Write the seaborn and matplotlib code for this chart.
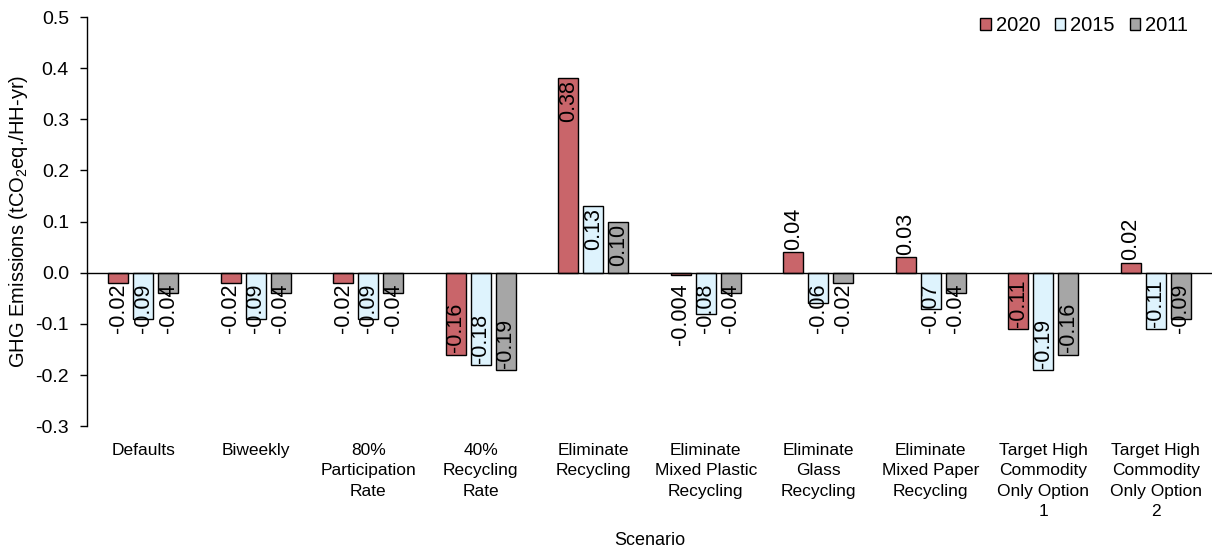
import matplotlib
matplotlib.use("Agg")
import matplotlib.pyplot as plt
from matplotlib.ticker import FormatStrFormatter, MultipleLocator
import pandas as pd
import seaborn as sns

# Scenario categories (wrapped as they appear on the axis)
scenarios = [
    "Defaults",
    "Biweekly",
    "80%\nParticipation\nRate",
    "40%\nRecycling\nRate",
    "Eliminate\nRecycling",
    "Eliminate\nMixed Plastic\nRecycling",
    "Eliminate\nGlass\nRecycling",
    "Eliminate\nMixed Paper\nRecycling",
    "Target High\nCommodity\nOnly Option\n1",
    "Target High\nCommodity\nOnly Option\n2",
]

years = ["2020", "2015", "2011"]

# GHG emissions (tCO2eq./HH-yr) per scenario
values_2020 = [-0.02, -0.02, -0.02, -0.16, 0.38, -0.004, 0.04, 0.03, -0.11, 0.02]
values_2015 = [-0.09, -0.09, -0.09, -0.18, 0.13, -0.08, -0.06, -0.07, -0.19, -0.11]
values_2011 = [-0.04, -0.04, -0.04, -0.19, 0.10, -0.04, -0.02, -0.04, -0.16, -0.09]

colors = ["#C9656A", "#DEF3FD", "#A6A6A6"]

series = {"2020": values_2020, "2015": values_2015, "2011": values_2011}
df = pd.DataFrame(
    [(s, y, v) for y in years for s, v in zip(scenarios, series[y])],
    columns=["Scenario", "Year", "Value"],
)

sns.set_style("white")
plt.rcParams["font.family"] = ["Liberation Sans", "DejaVu Sans"]
plt.rcParams["mathtext.fontset"] = "custom"
plt.rcParams["mathtext.rm"] = "Liberation Sans"
plt.rcParams["axes.unicode_minus"] = False
plt.rcParams["text.color"] = "black"
plt.rcParams["axes.labelcolor"] = "black"
plt.rcParams["xtick.color"] = "black"
plt.rcParams["ytick.color"] = "black"

fig = plt.figure(figsize=(12.12, 5.52), dpi=100)
ax = fig.add_axes([0.0718, 0.228, 0.9282, 0.741])

sns.barplot(
    data=df, x="Scenario", y="Value", hue="Year", order=scenarios,
    hue_order=years, palette=colors, saturation=1, width=0.666, gap=0.2,
    edgecolor="black", linewidth=1.0, errorbar=None, ax=ax,
)

ax.set_ylim(-0.3, 0.5)
ax.set_xlim(-0.5, len(scenarios) - 0.5)
ax.yaxis.set_major_locator(MultipleLocator(0.1))
ax.yaxis.set_major_formatter(FormatStrFormatter("%.1f"))
ax.axhline(0, color="black", lw=1.0, zorder=1)

for side in ["top", "right", "bottom"]:
    ax.spines[side].set_visible(False)
ax.spines["left"].set_color("black")
ax.spines["left"].set_linewidth(1.0)
ax.tick_params(axis="y", left=True, length=5, width=1, direction="out",
               labelsize=14, pad=8)
ax.tick_params(axis="x", bottom=False, length=0, labelsize=12.5, pad=12)
for lbl in ax.get_xticklabels():
    lbl.set_linespacing(1.45)

ax.set_xlabel("Scenario", fontsize=13, labelpad=9)
ax.set_ylabel(r"GHG Emissions (tCO$_\mathregular{2}$eq./HH-yr)", fontsize=14.5,
              labelpad=4)


def fmt(v):
    return f"{v:.3f}" if abs(v) < 0.01 else f"{v:.2f}"


# Vertical value labels on each bar
for container, year in zip(ax.containers, years):
    for bar, v in zip(container, series[year]):
        xc = bar.get_x() + bar.get_width() / 2
        if v >= 0.1:
            y, dy, va = v, -1.5, "top"
        elif v >= 0:
            y, dy, va = v, 2, "bottom"
        elif v <= -0.1:
            y, dy, va = v, 1.5, "bottom"
        else:
            y, dy, va = 0, -8, "top"
        ax.annotate(fmt(v), (xc, y), xytext=(0, dy), textcoords="offset points",
                    rotation=90, ha="center", va=va, fontsize=15.5,
                    color="black", zorder=5)

handles, labels = ax.get_legend_handles_labels()
ax.legend(handles, labels, loc="upper right",
          bbox_to_anchor=(1188 / 1212, 1 - 16 / 552),
          bbox_transform=fig.transFigure,
          ncol=3, frameon=False, fontsize=14.5, handlelength=0.5,
          handleheight=0.5, handletextpad=0.25, columnspacing=0.75,
          borderpad=0, borderaxespad=0)

fig.savefig("out.png", dpi=100)
